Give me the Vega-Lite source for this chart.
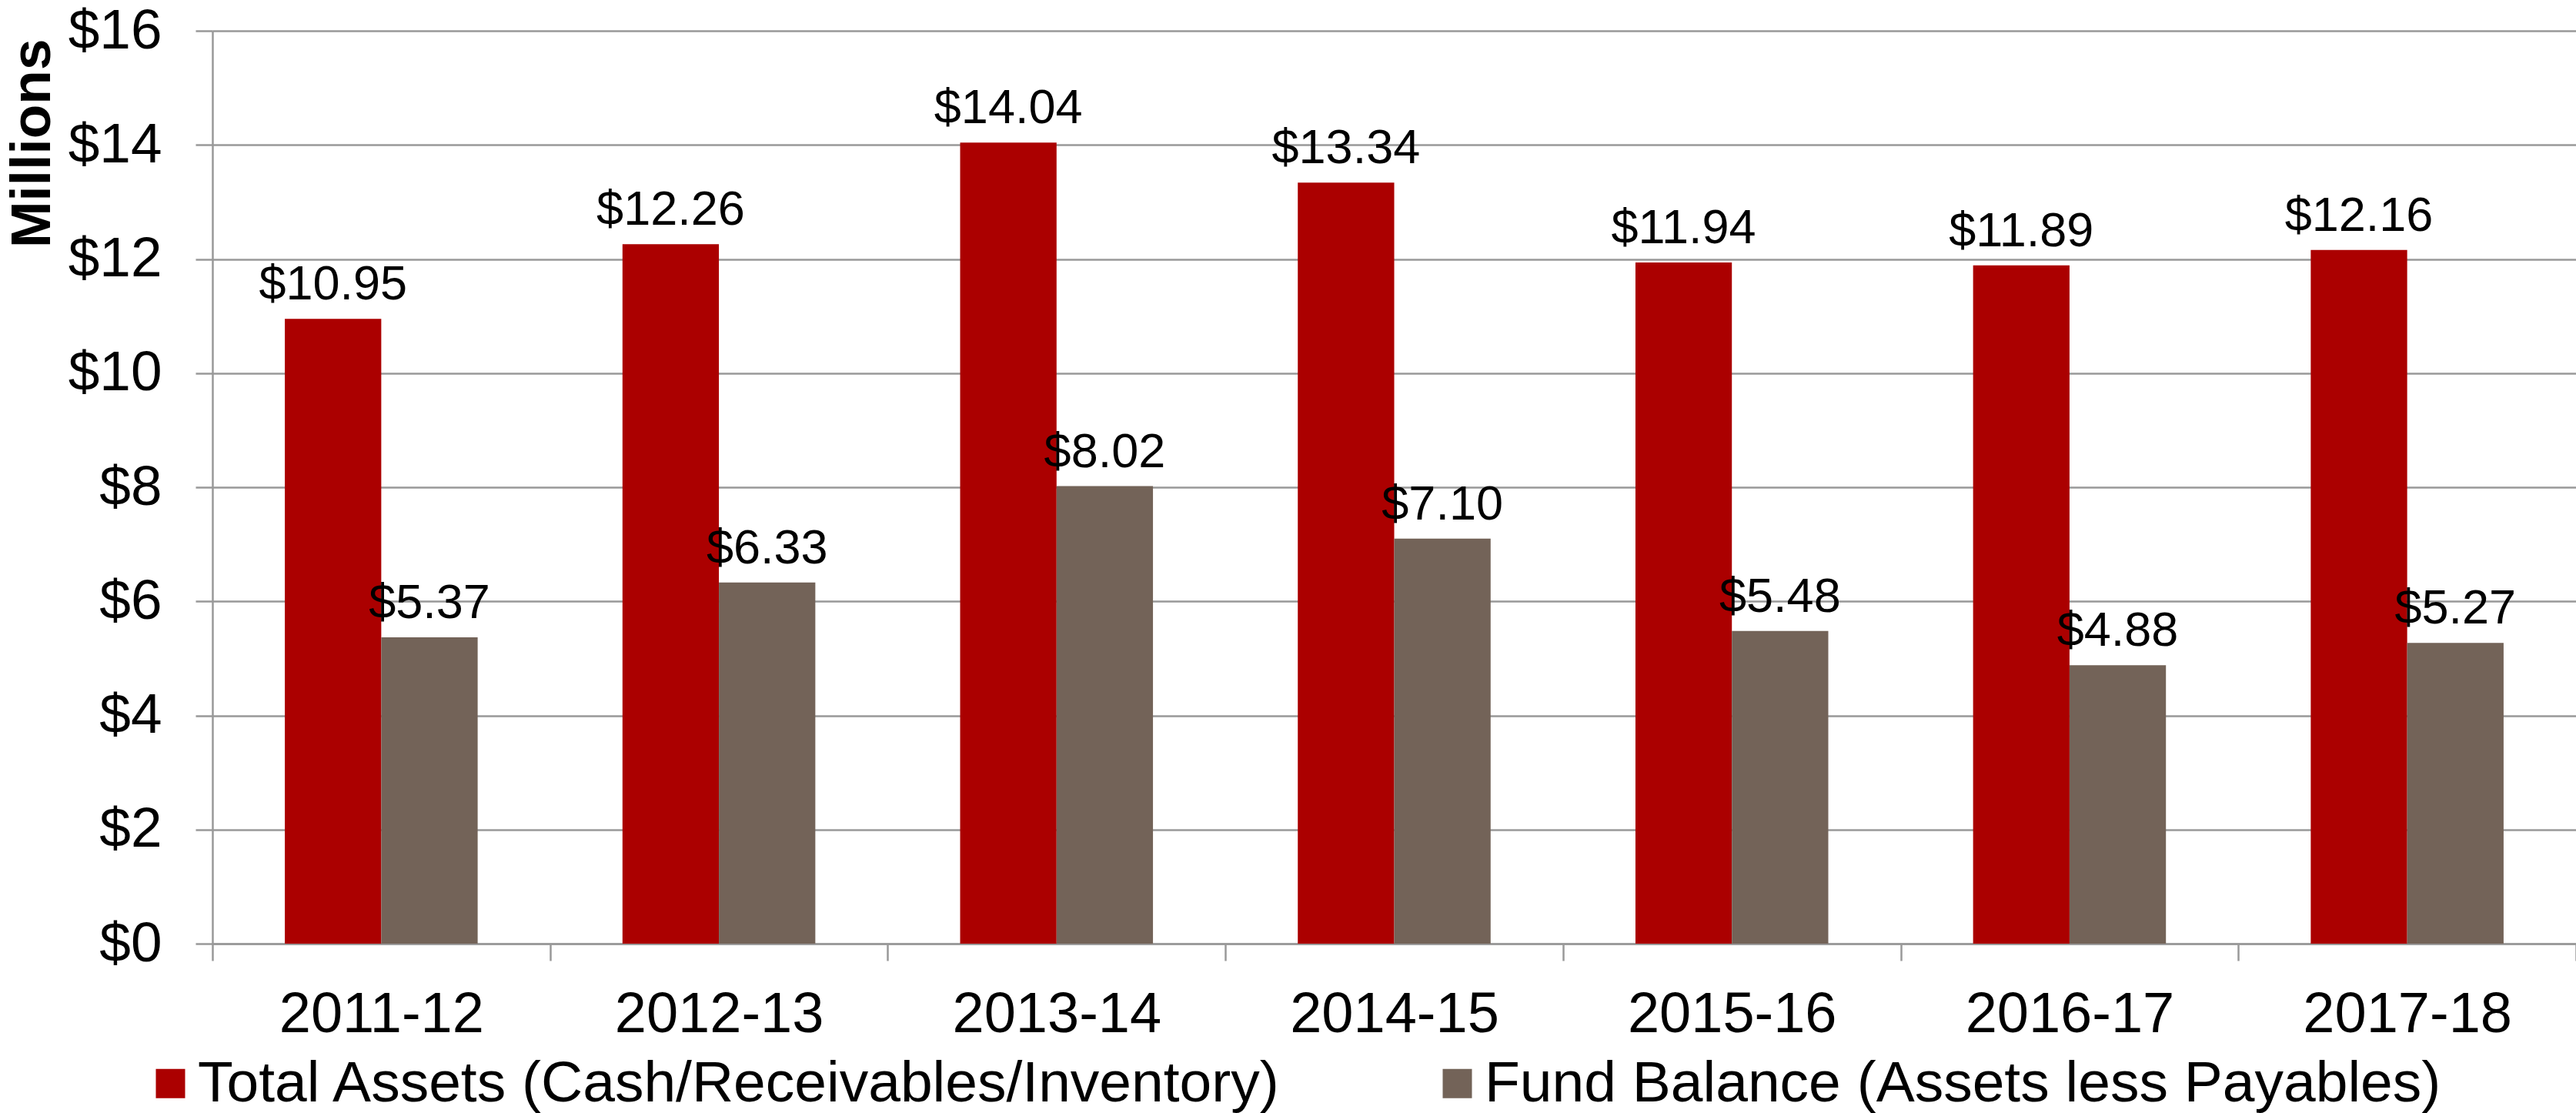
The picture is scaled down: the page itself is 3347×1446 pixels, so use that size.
{
  "$schema": "https://vega.github.io/schema/vega-lite/v6.json",
  "width": 3071,
  "height": 1186,
  "autosize": {"type": "none"},
  "padding": {"left": 276, "top": 40, "right": 0, "bottom": 220},
  "background": "white",
  "config": {
    "font": "Liberation Sans",
    "view": {"stroke": null}
  },
  "data": {
    "values": [
      {"year": "2011-12", "series": "Total Assets (Cash/Receivables/Inventory)", "value": 10.95},
      {"year": "2011-12", "series": "Fund Balance (Assets less Payables)", "value": 5.37},
      {"year": "2012-13", "series": "Total Assets (Cash/Receivables/Inventory)", "value": 12.26},
      {"year": "2012-13", "series": "Fund Balance (Assets less Payables)", "value": 6.33},
      {"year": "2013-14", "series": "Total Assets (Cash/Receivables/Inventory)", "value": 14.04},
      {"year": "2013-14", "series": "Fund Balance (Assets less Payables)", "value": 8.02},
      {"year": "2014-15", "series": "Total Assets (Cash/Receivables/Inventory)", "value": 13.34},
      {"year": "2014-15", "series": "Fund Balance (Assets less Payables)", "value": 7.10},
      {"year": "2015-16", "series": "Total Assets (Cash/Receivables/Inventory)", "value": 11.94},
      {"year": "2015-16", "series": "Fund Balance (Assets less Payables)", "value": 5.48},
      {"year": "2016-17", "series": "Total Assets (Cash/Receivables/Inventory)", "value": 11.89},
      {"year": "2016-17", "series": "Fund Balance (Assets less Payables)", "value": 4.88},
      {"year": "2017-18", "series": "Total Assets (Cash/Receivables/Inventory)", "value": 12.16},
      {"year": "2017-18", "series": "Fund Balance (Assets less Payables)", "value": 5.27}
    ]
  },
  "encoding": {
    "x": {
      "field": "year",
      "type": "nominal",
      "title": null,
      "scale": {"paddingInner": 0, "paddingOuter": 0},
      "axis": {
        "labelAngle": 0,
        "labelFontSize": 74,
        "labelColor": "black",
        "labelPadding": 34,
        "labelLimit": 0,
        "tickBand": "extent",
        "tickSize": 22,
        "tickColor": "#999999",
        "tickWidth": 2.5,
        "domainColor": "#999999",
        "domainWidth": 2.5,
        "grid": false
      }
    },
    "xOffset": {
      "field": "series",
      "type": "nominal",
      "sort": ["Total Assets (Cash/Receivables/Inventory)", "Fund Balance (Assets less Payables)"],
      "scale": {"paddingInner": 0, "paddingOuter": 0.751}
    },
    "y": {
      "field": "value",
      "type": "quantitative",
      "scale": {"domain": [0, 16], "nice": false},
      "axis": {
        "values": [0, 2, 4, 6, 8, 10, 12, 14, 16],
        "format": "$.0f",
        "labelFontSize": 73,
        "labelColor": "black",
        "labelPadding": 44,
        "tickSize": 22,
        "tickColor": "#999999",
        "tickWidth": 2.5,
        "domainColor": "#999999",
        "domainWidth": 2.5,
        "grid": true,
        "gridColor": "#999999",
        "gridWidth": 2.5,
        "title": "Millions",
        "titleFontSize": 73,
        "titleFontWeight": "bold",
        "titleColor": "black",
        "titleX": -212,
        "titleY": 10,
        "titleAlign": "right",
        "titleBaseline": "alphabetic",
        "titleAngle": 270
      }
    }
  },
  "layer": [
    {
      "mark": {"type": "bar"},
      "encoding": {
        "color": {
          "field": "series",
          "type": "nominal",
          "sort": ["Total Assets (Cash/Receivables/Inventory)", "Fund Balance (Assets less Payables)"],
          "scale": {
            "domain": ["Total Assets (Cash/Receivables/Inventory)", "Fund Balance (Assets less Payables)"],
            "range": ["#AB0000", "#736358"]
          },
          "legend": {
            "orient": "none",
            "legendX": -92,
            "legendY": 1330,
            "direction": "horizontal",
            "title": null,
            "labelFontSize": 75,
            "labelColor": "black",
            "labelLimit": 0,
            "labelOffset": -2,
            "symbolType": "square",
            "symbolSize": 1444,
            "symbolStrokeWidth": 0,
            "symbolOpacity": 1,
            "columnPadding": 190,
            "padding": 0
          }
        }
      }
    },
    {
      "mark": {"type": "text", "dy": -25, "baseline": "alphabetic", "align": "center", "fontSize": 63, "color": "black"},
      "encoding": {
        "text": {"field": "value", "type": "quantitative", "format": "$.2f"}
      }
    }
  ]
}
